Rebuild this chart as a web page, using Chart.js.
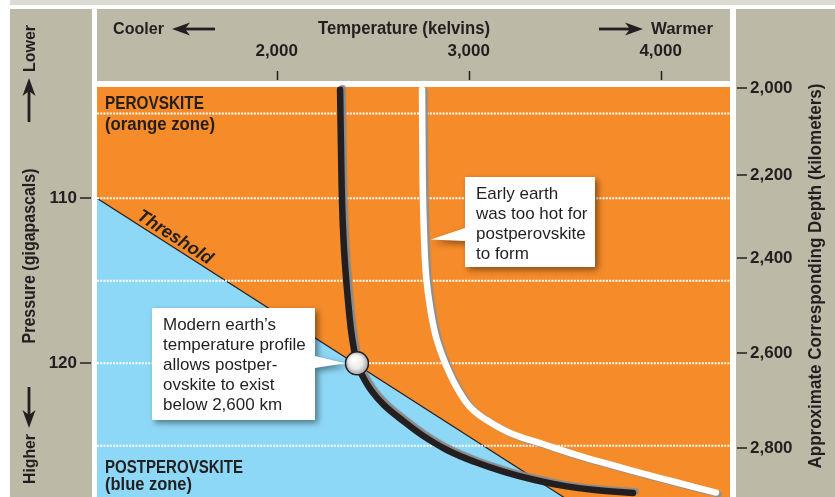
<!DOCTYPE html>
<html>
<head>
<meta charset="utf-8">
<script src="https://cdn.jsdelivr.net/npm/chart.js@4.4.1/dist/chart.umd.min.js"></script>
<style>
  html, body { margin: 0; padding: 0; background: #fff; }
  canvas { display: block; }
</style>
</head>
<body>
<canvas id="phase" width="835" height="497"></canvas>
<script>
// Axis ranges
const tempMin = 1064, tempMax = 4361;          // kelvins
const pressMin = 103.25, pressMax = 128.1;     // gigapascals

// Tick values
const tempTicks = [2000, 3000, 4000];
const pressureTicks = [110, 120];
const depthLabels = [2000, 2200, 2400, 2600, 2800];        // km
const depthAtPressure = [103.33, 108.6, 113.64, 119.39, 125.15]; // GPa
const gridPressures = [104.85, 110, 115, 120, 125];

// Perovskite / postperovskite phase boundary
const thresholdTemp = [1064, 3560];
const thresholdPressure = [110, 128.6];

// Modern geotherm
const modernTemp = [2330, 2335, 2340, 2348, 2358, 2371, 2387, 2403, 2418, 2444, 2491, 2559, 2653, 2757, 2887, 3033, 3189, 3345, 3502, 3658, 3856];
const modernPressure = [103.41, 107.07, 110.10, 112.53, 114.35, 116.16, 117.98, 119.19, 120.0, 120.71, 121.62, 122.53, 123.44, 124.35, 125.25, 125.98, 126.59, 127.07, 127.44, 127.68, 127.86];

// Early (hotter) geotherm
const earlyTemp = [2757, 2759, 2762, 2770, 2780, 2801, 2827, 2861, 2905, 2955, 3012, 3085, 3215, 3387, 3564, 3736, 3908, 4085, 4288];
const earlyPressure = [103.41, 107.07, 110.10, 113.13, 114.95, 116.77, 118.28, 119.50, 120.71, 121.80, 122.71, 123.38, 124.22, 124.89, 125.56, 126.13, 126.68, 127.22, 127.83];

// Where the modern geotherm meets the boundary
const crossingTemp = [2418];
const crossingPressure = [120];

const INK = '#231f20';
const BEIGE = '#bdb9a7';
const ORANGE = '#f68b29';
const BLUE = '#8ed8f7';
const FONT = "'Liberation Sans', Arial, sans-serif";

const pairs = (xs, ys) => xs.map((x, i) => ({ x, y: ys[i] }));
const fmt = v => Math.round(v).toString().replace(/\B(?=(\d{3})+(?!\d))/g, ',');

function text(ctx, s, x, y, size, weight, align, maxW, style) {
  ctx.font = `${style || 'normal'} ${weight} ${size}px ${FONT}`;
  ctx.textAlign = align;
  ctx.textBaseline = 'alphabetic';
  ctx.fillStyle = INK;
  if (maxW) ctx.fillText(s, x, y, maxW); else ctx.fillText(s, x, y);
}
function vtext(ctx, s, x, cy, size, maxW) {
  ctx.save();
  ctx.translate(x, cy);
  ctx.rotate(-Math.PI / 2);
  text(ctx, s, 0, 0, size, 'bold', 'center', maxW);
  ctx.restore();
}
function arrow(ctx, x1, y1, x2, y2) {
  const ang = Math.atan2(y2 - y1, x2 - x1), len = Math.hypot(x2 - x1, y2 - y1);
  ctx.save();
  ctx.translate(x2, y2);
  ctx.rotate(ang);
  ctx.fillStyle = INK;
  ctx.fillRect(-len, -1.4, len - 12, 2.8);
  ctx.beginPath();
  ctx.moveTo(0, 0);
  ctx.lineTo(-18, -6.5);
  ctx.lineTo(-13, 0);
  ctx.lineTo(-18, 6.5);
  ctx.closePath();
  ctx.fill();
  ctx.restore();
}
function callout(ctx, box, tip, base, lines, top) {
  const { x, y, w, h } = box;
  ctx.save();
  ctx.shadowColor = 'rgba(0,0,0,0.45)';
  ctx.shadowBlur = 6;
  ctx.shadowOffsetX = 3;
  ctx.shadowOffsetY = 3;
  ctx.fillStyle = '#fff';
  ctx.beginPath();
  if (tip.x < x) {
    ctx.moveTo(x, y); ctx.lineTo(x + w, y); ctx.lineTo(x + w, y + h); ctx.lineTo(x, y + h);
    ctx.lineTo(x, base[1]); ctx.lineTo(tip.x, tip.y); ctx.lineTo(x, base[0]);
  } else {
    ctx.moveTo(x, y); ctx.lineTo(x + w, y); ctx.lineTo(x + w, base[0]); ctx.lineTo(tip.x, tip.y);
    ctx.lineTo(x + w, base[1]); ctx.lineTo(x + w, y + h); ctx.lineTo(x, y + h);
  }
  ctx.closePath();
  ctx.fill();
  ctx.restore();
  lines.forEach((s, i) => text(ctx, s, x + 11, top + i * 20, 17, 'normal', 'left'));
}

// Beige panels, white gutters and the orange field behind the plot
const panels = {
  id: 'panels',
  beforeDraw(chart) {
    const { ctx, chartArea: a, width, height } = chart;
    ctx.save();
    ctx.fillStyle = '#fff';
    ctx.fillRect(0, 0, width, height);
    ctx.fillStyle = '#dcdcd4';
    ctx.fillRect(10, 0, width - 10, 5);
    ctx.fillStyle = BEIGE;
    ctx.fillRect(10, 9, a.left - 15, height - 9);
    ctx.fillRect(a.left, 9, a.right - a.left, a.top - 15);
    ctx.fillRect(a.right + 6, 9, width - a.right - 6, height - 9);
    ctx.fillStyle = ORANGE;
    ctx.fillRect(a.left, a.top, a.right - a.left, a.bottom - a.top);
    ctx.restore();
  }
};

// Offset grey edge along the geotherm tubes
const tubeEdge = {
  id: 'tubeEdge',
  beforeDatasetDraw(chart, args) {
    const ds = chart.data.datasets[args.index];
    if (!ds.edge) return;
    const ctx = chart.ctx;
    ctx.save();
    ctx.shadowColor = ds.edge.color;
    ctx.shadowOffsetX = ds.edge.dx;
    ctx.shadowOffsetY = ds.edge.dy;
    ctx.shadowBlur = 1;
  },
  afterDatasetDraw(chart, args) {
    const ds = chart.data.datasets[args.index];
    if (ds.edge) chart.ctx.restore();
  }
};

// Zone names, boundary name and the two callouts
const notes = {
  id: 'notes',
  afterDatasetsDraw(chart) {
    const { ctx } = chart;
    const xs = chart.scales.x, ys = chart.scales.y;
    ctx.save();
    text(ctx, 'PEROVSKITE', 105, 109, 18, 'bold', 'left', 99);
    text(ctx, '(orange zone)', 105, 129.5, 18, 'bold', 'left', 110);
    text(ctx, 'POSTPEROVSKITE', 105, 473, 18, 'bold', 'left', 138);
    text(ctx, '(blue zone)', 105, 490, 18, 'bold', 'left', 87);

    // label laid along the boundary
    const x0 = xs.getPixelForValue(thresholdTemp[0]), y0 = ys.getPixelForValue(thresholdPressure[0]);
    const x1 = xs.getPixelForValue(thresholdTemp[1]), y1 = ys.getPixelForValue(thresholdPressure[1]);
    const ang = Math.atan2(y1 - y0, x1 - x0);
    const t = (170 - x0) / (x1 - x0);
    const bx = x0 + t * (x1 - x0) + 4 * Math.sin(ang);
    const by = y0 + t * (y1 - y0) - 4 * Math.cos(ang);
    ctx.save();
    ctx.translate(bx, by);
    ctx.rotate(ang);
    text(ctx, 'Threshold', 0, 0, 18, 'bold', 'center', 86, 'italic');
    ctx.restore();

    const tip1 = { x: xs.getPixelForValue(2766) + 7, y: ys.getPixelForValue(112.5) };
    callout(ctx, { x: 465, y: 177, w: 130, h: 90 }, tip1, [228, 241],
      ['Early earth', 'was too hot for', 'postperovskite', 'to form'], 199);

    const tip2 = { x: xs.getPixelForValue(crossingTemp[0]) - 12, y: ys.getPixelForValue(crossingPressure[0]) };
    callout(ctx, { x: 152, y: 308, w: 163, h: 112 }, tip2, [356, 368],
      ['Modern earth\u2019s', 'temperature profile', 'allows postper-', 'ovskite to exist', 'below 2,600 km'], 330);
    ctx.restore();
  },
  afterDraw(chart) {
    const { ctx } = chart;
    const xs = chart.scales.x, ys = chart.scales.y, yd = chart.scales.depth;
    ctx.save();
    ctx.strokeStyle = INK;
    ctx.lineWidth = 1.5;
    ctx.beginPath();
    xs.ticks.forEach(tk => { const p = Math.round(xs.getPixelForValue(tk.value)) + 0.5; ctx.moveTo(p, 71); ctx.lineTo(p, 80); });
    ys.ticks.forEach(tk => { const p = Math.round(ys.getPixelForValue(tk.value)); ctx.moveTo(80, p); ctx.lineTo(91, p); });
    yd.ticks.forEach(tk => { const p = Math.round(yd.getPixelForValue(tk.value)); ctx.moveTo(737, p); ctx.lineTo(747, p); });
    ctx.stroke();

    text(ctx, 'Cooler', 113, 34, 17, 'bold', 'left', 51);
    text(ctx, 'Temperature (kelvins)', 404, 34, 18, 'bold', 'center', 172);
    text(ctx, 'Warmer', 651, 34, 17, 'bold', 'left', 62);
    arrow(ctx, 215, 29, 172, 29);
    arrow(ctx, 599, 29, 643, 29);

    vtext(ctx, 'Lower', 34.5, 48.5, 17, 47);
    vtext(ctx, 'Pressure (gigapascals)', 34.5, 256, 18, 175);
    vtext(ctx, 'Higher', 34.5, 459, 17, 50);
    arrow(ctx, 29, 122, 29, 78);
    arrow(ctx, 29, 387, 29, 428);

    vtext(ctx, 'Approximate Corresponding Depth (kilometers)', 821, 276, 18, 385);
    ctx.restore();
  }
};

const tickFont = { family: FONT, size: 17, weight: 'bold' };
// invisible tick marks push the labels away from the plot edge
const spacerGrid = { display: true, drawOnChartArea: false, drawTicks: true, tickLength: 20, color: 'rgba(0,0,0,0)' };
// fixed axis sizes, and no extra room reserved for end labels
const fixSide = w => s => { s.width = w; s.paddingTop = 0; s.paddingBottom = 0; };

const gridSets = gridPressures.map(p => ({
  data: [{ x: tempMin, y: p }, { x: tempMax, y: p }],
  borderColor: '#ffffff',
  borderWidth: 2,
  borderDash: [2, 1.2],
  pointRadius: 0,
  fill: false,
  order: 4
}));

// Shaded sphere marking the crossing point
function sphereFill(c) {
  const ch = c.chart, xs = ch.scales.x, ys = ch.scales.y;
  if (!xs || !ys || !c.raw) return '#eeeeee';
  const px = xs.getPixelForValue(c.raw.x), py = ys.getPixelForValue(c.raw.y);
  if (!isFinite(px) || !isFinite(py)) return '#eeeeee';
  const g = ch.ctx.createRadialGradient(px - 3, py - 4, 1, px, py, 12);
  g.addColorStop(0, '#ffffff');
  g.addColorStop(0.55, '#ebebeb');
  g.addColorStop(1, '#9c9c9c');
  return g;
}

new Chart(document.getElementById('phase'), {
  type: 'line',
  data: {
    datasets: [
      {
        data: pairs(thresholdTemp, thresholdPressure),
        borderColor: INK,
        borderWidth: 1.2,
        backgroundColor: BLUE,
        fill: 'start',
        pointRadius: 0,
        tension: 0,
        order: 5
      },
      ...gridSets,
      {
        data: pairs(earlyTemp, earlyPressure),
        borderColor: '#ffffff',
        borderWidth: 6.5,
        borderCapStyle: 'round',
        tension: 0.4,
        pointRadius: 0,
        fill: false,
        clip: false,
        edge: { color: '#8f8f8f', dx: 2.5, dy: 1.5 },
        order: 2
      },
      {
        data: pairs(modernTemp, modernPressure),
        borderColor: INK,
        borderWidth: 6.5,
        borderCapStyle: 'round',
        tension: 0.4,
        pointRadius: 0,
        fill: false,
        clip: false,
        edge: { color: '#8a8a8a', dx: 2.5, dy: -1.5 },
        order: 1
      },
      {
        data: pairs(crossingTemp, crossingPressure),
        showLine: false,
        pointRadius: 11.5,
        pointBorderWidth: 1.5,
        pointBorderColor: INK,
        pointBackgroundColor: sphereFill,
        clip: false,
        order: 0
      }
    ]
  },
  options: {
    responsive: false,
    animation: false,
    devicePixelRatio: 1,
    layout: { padding: 0, autoPadding: false },
    plugins: { legend: { display: false }, tooltip: { enabled: false } },
    scales: {
      x: {
        type: 'linear',
        position: 'top',
        min: tempMin,
        max: tempMax,
        afterBuildTicks: s => { s.ticks = tempTicks.map(v => ({ value: v })); },
        afterFit: s => { s.height = 87; s.paddingLeft = 0; s.paddingRight = 0; },
        grid: { display: false },
        border: { display: false },
        ticks: { padding: 17, color: INK, font: tickFont, autoSkip: false, maxRotation: 0, callback: v => fmt(v) }
      },
      y: {
        type: 'linear',
        position: 'left',
        reverse: true,
        min: pressMin,
        max: pressMax,
        afterBuildTicks: s => { s.ticks = pressureTicks.map(v => ({ value: v })); },
        afterFit: fixSide(97),
        grid: spacerGrid,
        border: { display: false },
        ticks: { padding: 0, color: INK, font: tickFont, autoSkip: false, callback: v => fmt(v) }
      },
      depth: {
        type: 'linear',
        position: 'right',
        reverse: true,
        min: pressMin,
        max: pressMax,
        afterBuildTicks: s => { s.ticks = depthAtPressure.map(v => ({ value: v })); },
        afterFit: fixSide(105),
        grid: spacerGrid,
        border: { display: false },
        ticks: { padding: 0, color: INK, font: tickFont, autoSkip: false, callback: (v, i) => fmt(depthLabels[i]) }
      }
    }
  },
  plugins: [panels, tubeEdge, notes]
});
</script>
</body>
</html>
